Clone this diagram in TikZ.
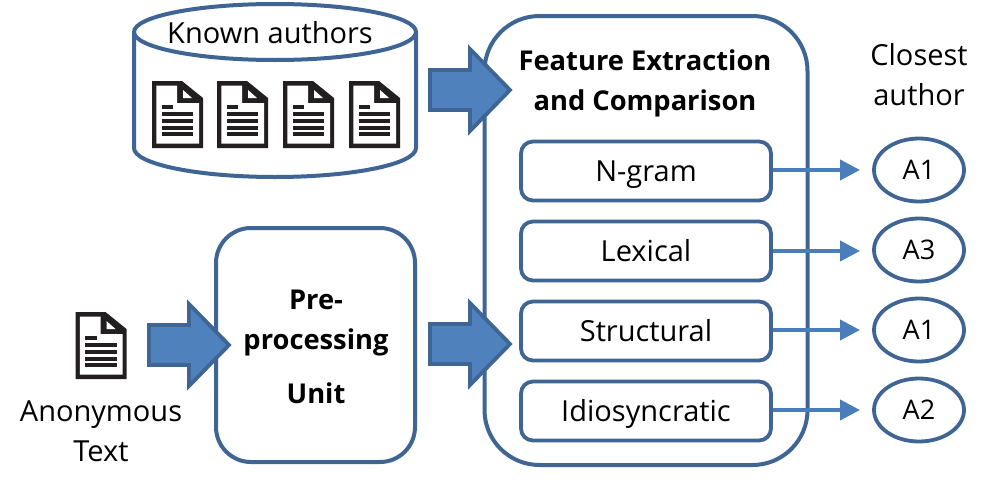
\documentclass[tikz,border=0pt]{standalone}
\usepackage{fontspec}
\setmainfont{Open Sans}
\usetikzlibrary{shapes.geometric,arrows.meta}
\definecolor{edgeblue}{HTML}{3F6595}
\definecolor{fillblue}{HTML}{4F81BD}
\definecolor{linkblue}{HTML}{4A7EBB}
\definecolor{docblack}{HTML}{231F20}
\tikzset{
  x=1pt,y=-1pt,
  bigbox/.style={draw=edgeblue,line width=4pt,fill=white,rounded corners=#1,inner sep=0pt},
  featbox/.style={draw=edgeblue,line width=3.8pt,fill=white,rounded corners=12pt,minimum width=250pt,minimum height=59pt,inner sep=0pt,text height=24pt,text depth=4pt,font=\fontsize{29}{34}\selectfont},
  authornode/.style={ellipse,draw=edgeblue,line width=3.8pt,fill=white,minimum width=90pt,minimum height=63pt,inner sep=0pt,font=\fontsize{27}{32}\selectfont},
  link/.style={draw=linkblue,line width=4pt,-{Triangle[length=20pt,width=20pt]}},
  plain/.style={inner sep=0pt,font=\fontsize{29}{40}\selectfont,align=center},
  head/.style={inner sep=0pt,font=\fontsize{27.3}{40}\selectfont\bfseries,align=center},
  blockarrow/.pic={
    \path[draw=edgeblue,line width=3.8pt,fill=fillblue,miter limit=10] (0,-20) -- (40,-20) -- (40,-41) -- (80,0) -- (40,41) -- (40,20) -- (0,20) -- cycle;
  },
  docicon/.pic={
    \fill[docblack] (0,0) -- (30,0) -- (51,17) -- (51,67) -- (0,67) -- cycle;
    \fill[white] (4.3,4.5) -- (25,4.5) -- (25,22) -- (47,22) -- (47,62.5) -- (4.3,62.5) -- cycle;
    \fill[white] (31,9) -- (40,17) -- (31,17) -- cycle;
    \fill[docblack] (9.5,24) rectangle (21,27.5);
    \foreach \yy in {31,38,44.5,51}{\fill[docblack] (9.5,\yy) rectangle (41,\yy+4);}
  }
}
\begin{document}
\begin{tikzpicture}
\useasboundingbox (0,0) rectangle (996,490);
% cylinder
\path[draw=edgeblue,line width=4pt,fill=white] (134,33) -- (134,148) arc[start angle=180,end angle=0,x radius=141,y radius=29] -- (416,33);
\draw[draw=edgeblue,line width=4pt,fill=white] (275,32) ellipse[x radius=141,y radius=28];
\node[plain] (known) at (270,33) {Known authors};
\foreach \xx in {152,217,283,349}{\pic at (\xx,81) {docicon};}
% big boxes
\node[bigbox=55pt,minimum width=323pt,minimum height=449pt] (feature) at (646,240.5) {};
\node[bigbox=35pt,minimum width=199pt,minimum height=234pt] (prep) at (315.5,345) {};
\node[head] (title) at (645,83) {Feature Extraction\\and Comparison};
\node[head] (pre1) at (316,300) {Pre-};
\node[head] (pre2) at (316,342) {processing};
\node[head] (pre3) at (316,393) {Unit};
% feature boxes
\node[featbox] (ngram) at (646,171) {N-gram};
\node[featbox] (lexical) at (646,251) {Lexical};
\node[featbox] (structural) at (646,331) {Structural};
\node[featbox] (idio) at (646,411) {Idiosyncratic};
% authors
\node[authornode] (a1) at (919,170) {A1};
\node[authornode] (a3) at (919,250) {A3};
\node[authornode] (a1b) at (919,330) {A1};
\node[authornode] (a2) at (919,410) {A2};
\node[plain] (closest) at (919,75) {Closest\\author};
% links
\coordinate (t1) at (860,170);
\coordinate (t2) at (860,251);
\coordinate (t3) at (860,330);
\coordinate (t4) at (860,410);
\draw[link] (ngram.east |- t1) -- (t1);
\draw[link] (lexical.east |- t2) -- (t2);
\draw[link] (structural.east |- t3) -- (t3);
\draw[link] (idio.east |- t4) -- (t4);
% block arrows
\pic at (430,90) {blockarrow};
\pic at (430,344) {blockarrow};
\pic at (149,345) {blockarrow};
% anonymous
\pic at (75.5,312) {docicon};
\node[plain] (anon) at (101,431) {Anonymous\\Text};
\end{tikzpicture}
\end{document}
